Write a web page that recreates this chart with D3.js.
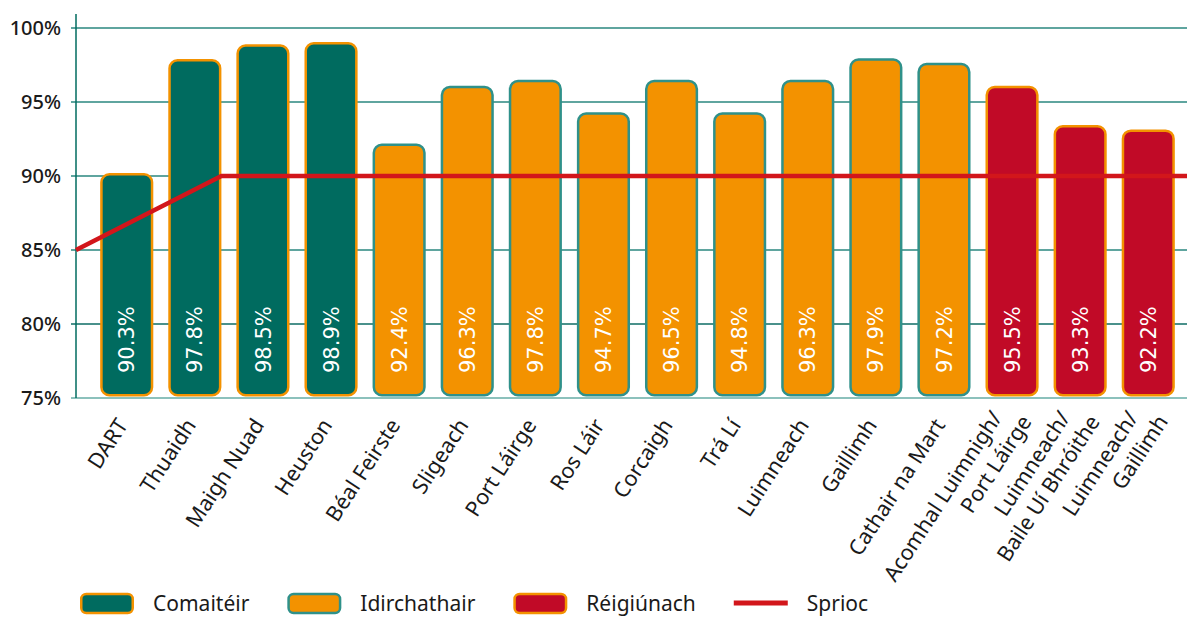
<!DOCTYPE html>
<html>
<head>
<meta charset="utf-8">
<script src="https://cdn.jsdelivr.net/npm/d3@7"></script>
<style>
  body { margin: 0; background: #fff; }
  svg { display: block; }
</style>
</head>
<body>
<div id="chart"></div>
<script>
// Categories (stations / routes), one bar each
const categories = [
    "DART", "Thuaidh", "Maigh Nuad", "Heuston", "Béal Feirste", "Sligeach",
    "Port Láirge", "Ros Láir", "Corcaigh", "Trá Lí", "Luimneach", "Gaillimh",
    "Cathair na Mart", "Acomhal Luimnigh/\nPort Láirge",
    "Luimneach/\nBaile Uí Bhróithe", "Luimneach/\nGaillimh"
];

// Service group of each category
const groups = [
    "Comaitéir", "Comaitéir", "Comaitéir", "Comaitéir",
    "Idirchathair", "Idirchathair", "Idirchathair", "Idirchathair", "Idirchathair",
    "Idirchathair", "Idirchathair", "Idirchathair", "Idirchathair",
    "Réigiúnach", "Réigiúnach", "Réigiúnach"
];

// Bar heights as drawn (%)
const barValues = [90.2, 97.9, 98.9, 99.05, 92.2, 96.1, 96.5, 94.3, 96.5, 94.3, 96.5, 97.95, 97.65, 96.1, 93.45, 93.15];

// Printed value labels
const valueLabels = ["90.3%", "97.8%", "98.5%", "98.9%", "92.4%", "96.3%", "97.8%", "94.7%",
    "96.5%", "94.8%", "96.3%", "97.9%", "97.2%", "95.5%", "93.3%", "92.2%"];

// Y axis ticks
const yTicks = [75, 80, 85, 90, 95, 100];

// Target line (Sprioc): rises from 85% to 90% by the end of "Thuaidh"
const targetStart = 85;
const target = 90;
const targetReachedAt = "Thuaidh";

const legendLabels = ["Comaitéir", "Idirchathair", "Réigiúnach", "Sprioc"];

const width = 1187, height = 617;
const margin = { top: 28, left: 76 };

const fillColor = d3.scaleOrdinal()
    .domain(["Comaitéir", "Idirchathair", "Réigiúnach"])
    .range(["#006b5f", "#f39200", "#c10a27"]);
const strokeColor = d3.scaleOrdinal()
    .domain(["Comaitéir", "Idirchathair", "Réigiúnach"])
    .range(["#f39200", "#2f918a", "#f39200"]);
const red = "#d2161b";
const labelFont = "'Noto Sans', sans-serif";

const svg = d3.select("#chart").append("svg")
    .attr("width", width)
    .attr("height", height)
    .attr("viewBox", [0, 0, width, height]);

// Scales
const x = d3.scaleBand()
    .domain(categories)
    .range([margin.left, 1199])
    .paddingInner(0.22)
    .paddingOuter(0.355);

const y = d3.scaleLinear()
    .domain([75, 100])
    .range([398, margin.top]);

// Gridlines
svg.append("g")
    .selectAll("line")
    .data(yTicks)
    .join("line")
    .attr("x1", margin.left - 5)
    .attr("x2", width)
    .attr("y1", d => y(d))
    .attr("y2", d => y(d))
    .attr("stroke", d => d === 80 ? "#0e6d64" : d === 75 ? "#8cc1bc" : "#5fa59f")
    .attr("stroke-width", d => d === 80 ? 1.3 : 2);

// Y axis line
svg.append("line")
    .attr("x1", margin.left)
    .attr("x2", margin.left)
    .attr("y1", 14)
    .attr("y2", y(75))
    .attr("stroke", "#006b5f")
    .attr("stroke-width", 1.5);

// Y tick labels
svg.append("g")
    .selectAll("text")
    .data(yTicks)
    .join("text")
    .attr("x", 61)
    .attr("y", d => y(d))
    .attr("dy", "0.36em")
    .attr("text-anchor", "end")
    .attr("font-family", labelFont)
    .attr("font-size", 20)
    .attr("font-weight", 500)
    .attr("fill", "#1a1a1a")
    .text(d => d + "%");

// Bars
const sw = 2.5;
const bars = svg.append("g")
    .selectAll("g")
    .data(categories)
    .join("g");

bars.append("rect")
    .attr("x", d => x(d) + sw / 2)
    .attr("width", x.bandwidth() - sw)
    .attr("y", (d, i) => y(barValues[i]) + sw / 2)
    .attr("height", (d, i) => y(75) - 1.5 - y(barValues[i]) - sw)
    .attr("rx", 8)
    .attr("fill", (d, i) => fillColor(groups[i]))
    .attr("stroke", (d, i) => strokeColor(groups[i]))
    .attr("stroke-width", sw);

// Value labels, rotated inside bars
bars.append("text")
    .attr("transform", d => `translate(${x(d) + x.bandwidth() / 2},373) rotate(-90)`)
    .attr("dy", "0.36em")
    .attr("font-family", "'DejaVu Sans', sans-serif")
    .attr("font-size", 21)
    .attr("fill", "#fff")
    .text((d, i) => valueLabels[i]);

// Target line
const targetLine = d3.line();
svg.append("path")
    .attr("d", targetLine([
        [x.range()[0], y(targetStart)],
        [x(targetReachedAt) + x.bandwidth(), y(target)],
        [x.range()[1], y(target)]
    ]))
    .attr("fill", "none")
    .attr("stroke", red)
    .attr("stroke-width", 4.5);

// Category labels, rotated; two-line labels are centred on the anchor,
// second line a little further along
const lineGap = 27;
const catLabels = svg.append("g")
    .selectAll("text")
    .data(categories)
    .join("text")
    .attr("transform", d => `translate(${x(d) + x.bandwidth() / 2 + 2},425) rotate(-57)`)
    .attr("text-anchor", "end")
    .attr("font-family", labelFont)
    .attr("font-size", 21.5)
    .attr("fill", "#1a1a1a");

catLabels.selectAll("tspan")
    .data(d => {
        const lines = d.split("\n");
        return lines.map((t, i) => ({ t, i, n: lines.length }));
    })
    .join("tspan")
    .attr("x", d => d.i === 0 ? 0 : 13)
    .attr("dy", d => d.i === 0 ? -(d.n - 1) * lineGap / 2 : lineGap)
    .text(d => d.t);

// Legend
const legend = svg.append("g").attr("transform", "translate(80,603)");
let lx = 0;
legendLabels.forEach((label, i) => {
    const item = legend.append("g").attr("transform", `translate(${lx},0)`);
    if (i < 3) {
        item.append("rect")
            .attr("x", sw / 2)
            .attr("y", -9)
            .attr("width", 54 - sw)
            .attr("height", 19)
            .attr("rx", 5)
            .attr("fill", fillColor(label))
            .attr("stroke", strokeColor(label))
            .attr("stroke-width", sw);
    } else {
        item.append("line")
            .attr("x1", 0)
            .attr("x2", 54)
            .attr("y1", 0)
            .attr("y2", 0)
            .attr("stroke", red)
            .attr("stroke-width", 5);
    }
    const t = item.append("text")
        .attr("x", 73)
        .attr("dy", "0.36em")
        .attr("font-family", labelFont)
        .attr("font-size", 21)
        .attr("fill", "#1a1a1a")
        .text(label);
    lx += 73 + t.node().getComputedTextLength() + 38;
});
</script>
</body>
</html>
